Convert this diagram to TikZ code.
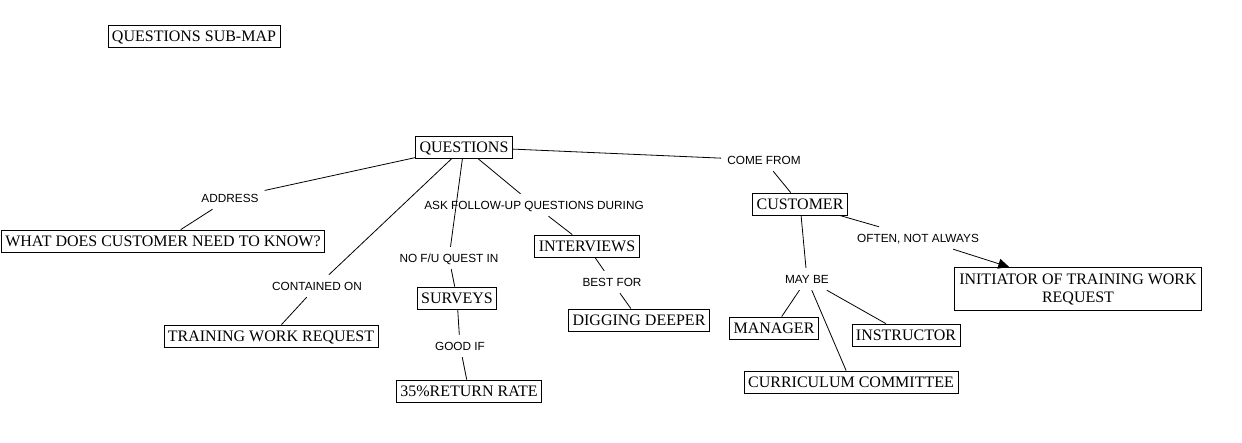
\documentclass[tikz,border=0pt]{standalone}
\usepackage{fontspec}
\setmainfont{Liberation Serif}
\setsansfont{Liberation Sans}
\usetikzlibrary{arrows.meta}
\tikzset{
  concept/.style={draw, line width=0.8pt, font=\fontsize{16}{18}\selectfont,
    inner xsep=4pt, inner ysep=5pt, text height=11pt, text depth=1pt},
  linkword/.style={font=\sffamily\fontsize{11.8}{13}\selectfont,
    inner xsep=6pt, inner ysep=7pt, text height=8pt, text depth=0pt},
  link/.style={line width=0.8pt},
}

\begin{document}
\begin{tikzpicture}[x=1pt,y=-1pt]
\useasboundingbox (0,0) rectangle (1242,442);

\node[concept] (submap) at (194,36) {QUESTIONS SUB-MAP};
\node[concept] (questions) at (464,147) {QUESTIONS};
\node[linkword] (address) at (230,198) {ADDRESS};
\node[concept] (needtoknow) at (163,241) {WHAT DOES CUSTOMER NEED TO KNOW?};
\node[linkword] (containedon) at (317,286) {CONTAINED ON};
\node[concept] (workrequest) at (271,336) {TRAINING WORK REQUEST};
\node[linkword] (nofollowup) at (449,258) {NO F/U QUEST IN};
\node[concept] (surveys) at (457,298) {SURVEYS};
\node[linkword] (goodif) at (460,346) {GOOD IF};
\node[concept] (returnrate) at (469,391) {35\%RETURN RATE};
\node[linkword] (askfollowup) at (534,205) {ASK FOLLOW-UP QUESTIONS DURING};
\node[concept] (interviews) at (587,246) {INTERVIEWS};
\node[linkword] (bestfor) at (612,282) {BEST FOR};
\node[concept] (digging) at (639,320) {DIGGING DEEPER};
\node[linkword] (comefrom) at (764,160) {COME FROM};
\node[concept] (customer) at (800,204) {CUSTOMER};
\node[linkword] (often) at (918,238) {OFTEN, NOT ALWAYS};
\node[concept, align=center, minimum width=247pt, minimum height=43pt, text height=, text depth=]
  (initiator) at (1078,289) {INITIATOR OF TRAINING WORK\\REQUEST};
\node[linkword] (maybe) at (807,279) {MAY BE};
\node[concept] (manager) at (774,328) {MANAGER};
\node[concept] (instructor) at (906,335) {INSTRUCTOR};
\node[concept] (committee) at (851,382) {CURRICULUM COMMITTEE};

\draw[link] (questions) -- (address);
\draw[link] (address) -- (needtoknow);
\draw[link] (questions) -- (containedon);
\draw[link] (containedon) -- (workrequest);
\draw[link] (questions) -- (nofollowup);
\draw[link] (nofollowup) -- (surveys);
\draw[link] (surveys) -- (goodif);
\draw[link] (goodif) -- (returnrate);
\draw[link] (questions) -- (askfollowup);
\draw[link] (askfollowup) -- (interviews);
\draw[link] (interviews) -- (bestfor);
\draw[link] (bestfor) -- (digging);
\draw[link] (questions) -- (comefrom);
\draw[link] (comefrom) -- (customer);
\draw[link] (customer) -- (often);
\draw[link, -{Triangle[length=11pt,width=10pt]}] (often) -- (initiator);
\draw[link] (customer) -- (maybe);
\draw[link] (maybe) -- (manager);
\draw[link] (maybe) -- (instructor);
\draw[link] (maybe) -- (committee);
\end{tikzpicture}
\end{document}
